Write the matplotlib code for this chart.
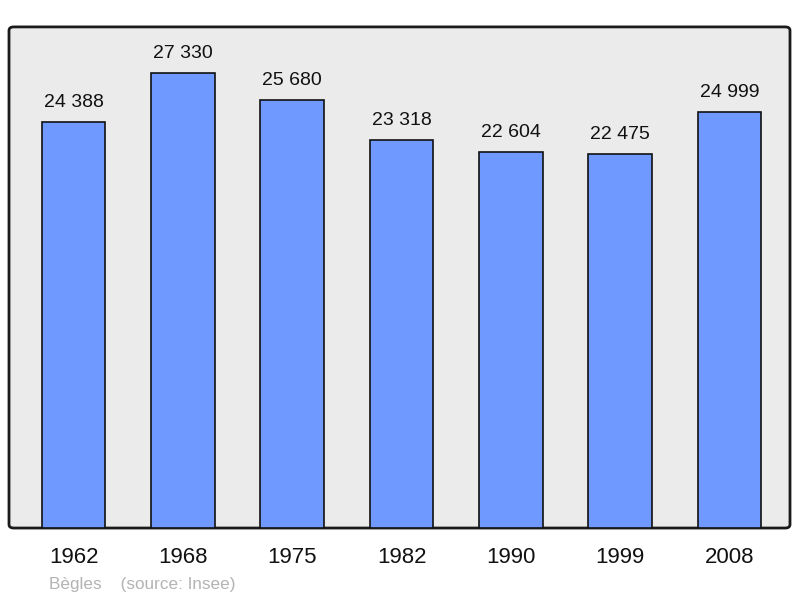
import matplotlib.pyplot as plt
from matplotlib.patches import FancyBboxPatch

plt.rcParams['font.family'] = ['Liberation Sans', 'DejaVu Sans']

years = ["1962", "1968", "1975", "1982", "1990", "1999", "2008"]
population = [24388, 27330, 25680, 23318, 22604, 22475, 24999]
labels = ["24 388", "27 330", "25 680", "23 318", "22 604", "22 475", "24 999"]

fig = plt.figure(figsize=(8, 5.98), dpi=100)
ax = fig.add_axes([0.01125, 0.117, 0.97625, 0.838])
ax.set_facecolor('none')
ax.set_zorder(2)

# rounded frame behind the axes
frame = FancyBboxPatch((0.01125, 0.117), 0.97625, 0.838,
                       boxstyle="round,pad=0,rounding_size=0.006",
                       transform=fig.transFigure, facecolor='#ebebeb',
                       edgecolor='#1a1a1a', linewidth=2, zorder=-1)
fig.patches.append(frame)

x = list(range(len(years)))
bars = ax.bar(x, population, width=0.58, color='#7099ff',
              edgecolor='#111111', linewidth=1.2, zorder=2)
for b, lab in zip(bars, labels):
    ax.annotate(lab, (b.get_x() + b.get_width() / 2, b.get_height()),
                xytext=(0, 8), textcoords='offset points',
                ha='center', va='bottom', fontsize=14, color='#111111')

ax.set_xlim(-0.59, 6.553)
ax.set_ylim(0, 30100)
ax.set_xticks(x)
ax.set_xticklabels(years, fontsize=16, color='#111111')
ax.tick_params(axis='x', length=0, pad=14)
ax.set_yticks([])
for s in ax.spines.values():
    s.set_visible(False)

fig.text(49 / 800, 1 - 584 / 598, "Bègles    (source: Insee)", fontsize=12.3,
         color='#b3b3b3', ha='left', va='center')

fig.savefig('out.png', dpi=100)
